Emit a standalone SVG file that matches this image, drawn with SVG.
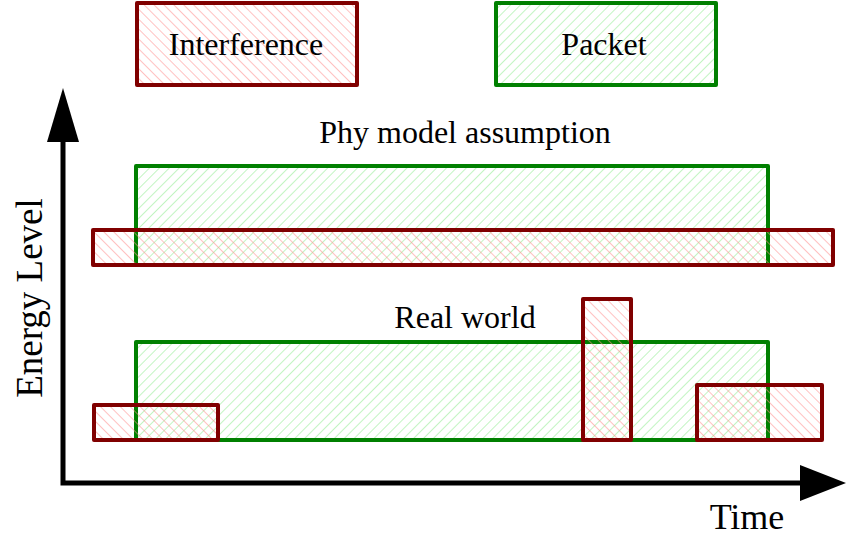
<svg xmlns="http://www.w3.org/2000/svg" width="850" height="537" viewBox="0 0 850 537">
  <defs>
    <!-- diagonal hatch fills: interference "\" red, packet "/" green -->
    <pattern id="hatchRed" patternUnits="userSpaceOnUse" width="7" height="7" patternTransform="rotate(-45)">
      <line x1="0" y1="-1" x2="0" y2="8" stroke="#ff8c8c" stroke-width="1.1"/>
    </pattern>
    <pattern id="hatchGreen" patternUnits="userSpaceOnUse" width="7" height="7" patternTransform="rotate(45)">
      <line x1="0" y1="-1" x2="0" y2="8" stroke="#8fea8f" stroke-width="1.1"/>
    </pattern>
  </defs>
  <style>
    .intf { fill: url(#hatchRed); stroke: #800000; stroke-width: 4; stroke-linejoin: round; }
    .pkt { fill: url(#hatchGreen); stroke: #008000; stroke-width: 4; stroke-linejoin: round; }
    .label { font-family: "Liberation Serif", "Times New Roman", serif; font-size: 32px; fill: #000; }
    .big { font-size: 36px; }
    .axis { stroke: #000; stroke-width: 5; fill: none; }
  </style>

  <!-- legend -->
  <g id="legend-interference">
    <rect class="intf" x="137" y="3" width="220" height="82"/>
    <text class="label" x="246" y="55" text-anchor="middle">Interference</text>
  </g>
  <g id="legend-packet">
    <rect class="pkt" x="496" y="3" width="220" height="82"/>
    <text class="label" x="604" y="55" text-anchor="middle">Packet</text>
  </g>

  <!-- phy model assumption -->
  <g id="phy-title">
    <text class="label" x="465" y="143" text-anchor="middle">Phy model assumption</text>
  </g>
  <g id="phy-packet">
    <rect class="pkt" x="136" y="166" width="632" height="99"/>
  </g>
  <g id="phy-interference">
    <rect class="intf" x="93" y="230" width="740" height="35"/>
  </g>

  <!-- real world -->
  <g id="real-title">
    <text class="label" x="465" y="328" text-anchor="middle">Real world</text>
  </g>
  <g id="real-packet">
    <rect class="pkt" x="136" y="342" width="632" height="98"/>
  </g>
  <g id="real-interference-1">
    <rect class="intf" x="94" y="405" width="124" height="35"/>
  </g>
  <g id="real-interference-2">
    <rect class="intf" x="583" y="299" width="48" height="141"/>
  </g>
  <g id="real-interference-3">
    <rect class="intf" x="697" y="385" width="125" height="55"/>
  </g>

  <!-- axes -->
  <g id="axes">
    <path class="axis" d="M63 135 V483 H805"/>
    <polygon points="63,88 47,142 79,142" fill="#000"/>
    <polygon points="846,483 800,465 800,501" fill="#000"/>
  </g>
  <g id="axis-labels">
    <text class="label big" x="747" y="529" text-anchor="middle">Time</text>
    <text class="label big" transform="translate(42 298) rotate(-90)" text-anchor="middle" style="font-size:37px">Energy Level</text>
  </g>
</svg>
